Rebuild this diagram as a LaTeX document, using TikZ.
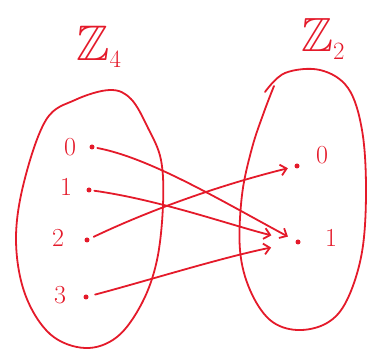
\documentclass[tikz,border=0pt]{standalone}
\usepackage{amssymb}
\usetikzlibrary{arrows.meta}
\definecolor{ink}{RGB}{228,26,42}

\begin{document}
\begin{tikzpicture}[x=1pt,y=-1pt,color=ink,line width=1.8pt,line cap=round,
	>={Straight Barb[length=6pt,width=11pt]},
	dot/.style={circle,fill,inner sep=0pt,minimum size=5pt},
	num/.style={font=\fontsize{26}{28}\selectfont}]
	
	\useasboundingbox (0,0) rectangle (367,352);
	
	% the two sets
	\draw plot[smooth cycle,tension=0.6] coordinates {(46,120) (75,100) (110,90) (131,99) (148,128) (161,160) (163,205) (157,260) (142,303) (117,337) (85,348) (50,334) (25,294) (16,240) (24,182)};
	\draw plot[smooth,tension=0.6] coordinates {(265,92) (285,73) (320,70) (348,88) (362,130) (366,190) (362,252) (347,300) (327,323) (297,330) (270,320) (250,290) (240,250) (242,195) (252,148) (264,112) (274,86)};
	
	\node[font=\fontsize{50}{52}\selectfont] (zfour) at (99,47) {$\mathbb{Z}_4$};
	\node[font=\fontsize{48}{50}\selectfont] (ztwo) at (323,39) {$\mathbb{Z}_2$};
	
	% elements
	\node[dot] (a0) at (92,147) {};
	\node[dot] (a1) at (89,190) {};
	\node[dot] (a2) at (87,240) {};
	\node[dot] (a3) at (86,297) {};
	\node[num] at (70,147) {0};
	\node[num] at (66,187) {1};
	\node[num] at (58,238) {2};
	\node[num] at (60,295) {3};
	
	\node[dot] (b0) at (297,166) {};
	\node[dot] (b1) at (298,242) {};
	\node[num] at (322,155) {0};
	\node[num] at (331,238) {1};
	
	% the map
	\draw[->,shorten <=2pt,shorten >=8pt] (a0) .. controls (150,158) and (220,200) .. (b1);
	\draw[->,shorten <=2pt,shorten >=24pt] (a1) .. controls (160,200) and (230,225) .. (b1);
	\draw[->,shorten <=4pt,shorten >=6pt] (a2) .. controls (150,210) and (220,185) .. (b0);
	\draw[->,shorten <=6pt,shorten >=24pt] (a3) .. controls (150,280) and (220,258) .. (b1);
	
\end{tikzpicture}
\end{document}
